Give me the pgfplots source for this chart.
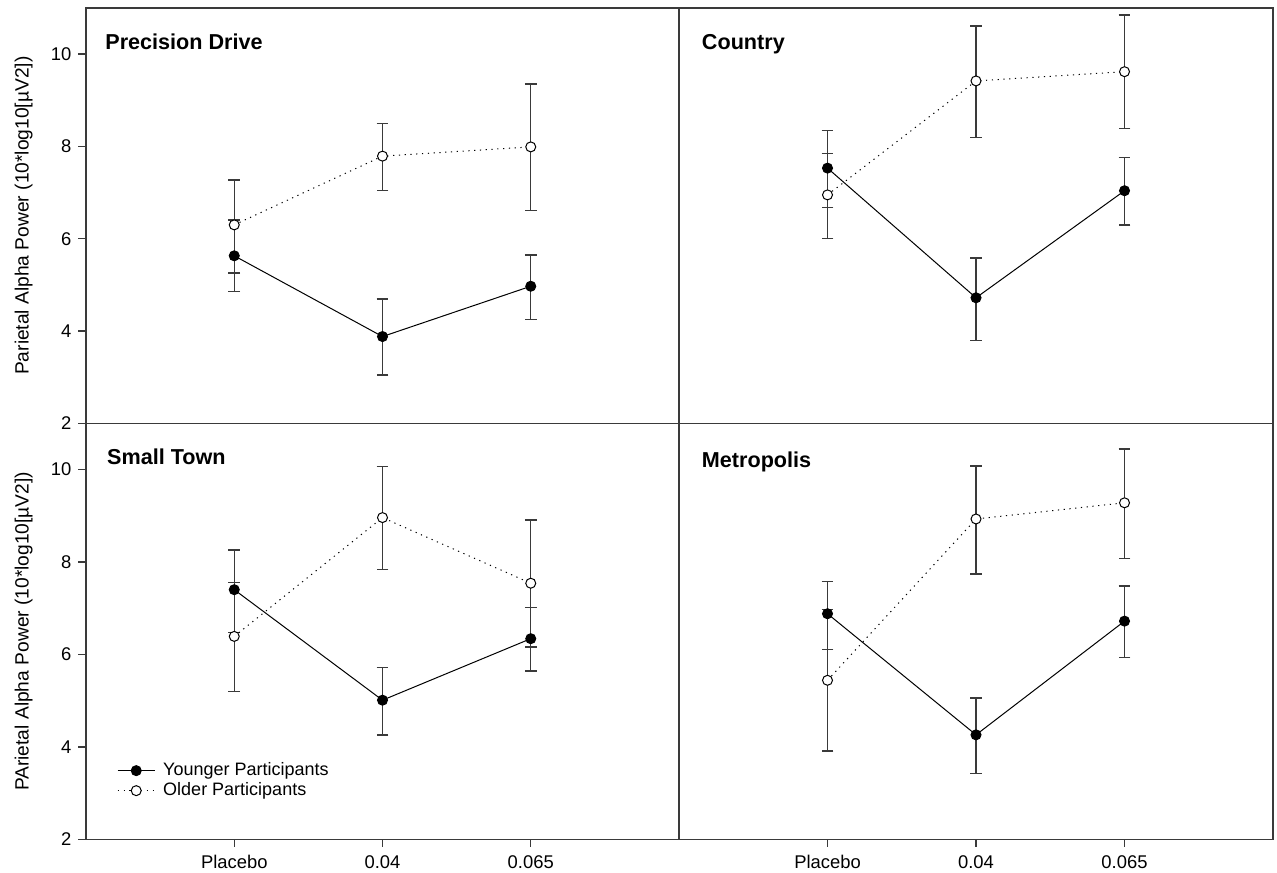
\documentclass[border=0pt]{standalone}
\usepackage{pgfplots}
\pgfplotsset{compat=1.18}
\usepackage{fontspec}
\setmainfont{Liberation Sans}
\definecolor{axgray}{HTML}{3A3A3A}

\tikzset{ttl/.style={anchor=west, inner sep=0pt, font=\bfseries\fontsize{10.8}{12}\selectfont}}
\pgfplotsset{
  panel/.style={
    scale only axis,
    anchor=south west,
    xmin=-1, xmax=3, ymin=2, ymax=11,
    axis line style={axgray, line width=0.65pt},
    tick style={axgray, line width=0.65pt},
    tick align=outside,
    major tick length=3.8pt,
    xtick=\empty, ytick=\empty,
    xtick pos=bottom, ytick pos=left,
    tick label style={font=\fontsize{9.2}{10}\selectfont},
    xticklabel style={yshift=-0.8pt},
    /pgf/number format/assume math mode=true,
    clip=false,
  },
  lefty/.style={
    ytick={2,4,6,8,10},
    ylabel style={at={(rel axis cs:-0.0893,0.5)}, anchor=south, inner sep=0pt, font=\fontsize{9.6}{11}\selectfont},
  },
  bottomx/.style={
    xtick={0,1,2},
    xticklabels={Placebo,0.04,0.065},
  },
  young/.style={
    black, line width=0.5pt, solid,
    mark=*, mark size=2.5pt, mark options={solid, fill=black, draw=black},
    error bars/.cd, y dir=both, y explicit,
    error bar style={axgray, line width=0.7pt, solid},
    error mark options={rotate=90, mark size=2.9pt, axgray, line width=0.7pt, solid},
  },
  old/.style={
    black, line width=0.5pt, dash pattern=on 0.6pt off 2.3pt,
    mark=*, mark size=2.5pt, mark options={solid, fill=white, draw=black, line width=0.5pt},
    error bars/.cd, y dir=both, y explicit,
    error bar style={axgray, line width=0.7pt, solid},
    error mark options={rotate=90, mark size=2.9pt, axgray, line width=0.7pt, solid},
  },
}

% x  y  ep  em
\pgfplotstableread{
x y ep em
0 5.63 0.78 0.78
1 3.88 0.81 0.83
2 4.97 0.68 0.72
}\PDy
\pgfplotstableread{
x y ep em
0 6.30 0.97 1.04
1 7.79 0.71 0.74
2 7.99 1.36 1.38
}\PDo
\pgfplotstableread{
x y ep em
0 7.53 0.81 0.85
1 4.72 0.86 0.92
2 7.04 0.72 0.74
}\COy
\pgfplotstableread{
x y ep em
0 6.95 0.90 0.95
1 9.42 1.19 1.22
2 9.62 1.23 1.23
}\COo
\pgfplotstableread{
x y ep em
0 7.40 0.86 0.92
1 5.01 0.71 0.75
2 6.34 0.67 0.70
}\STy
\pgfplotstableread{
x y ep em
0 6.39 1.17 1.19
1 8.96 1.10 1.12
2 7.54 1.37 1.38
}\STo
\pgfplotstableread{
x y ep em
0 6.88 0.70 0.77
1 4.26 0.80 0.84
2 6.72 0.76 0.79
}\MEy
\pgfplotstableread{
x y ep em
0 5.44 1.53 1.53
1 8.93 1.15 1.19
2 9.28 1.16 1.20
}\MEo

\begin{document}
\begin{tikzpicture}
\useasboundingbox (0,0) rectangle (638.5pt,436pt);

% Top-left: Precision Drive
\begin{axis}[panel, lefty, at={(43pt,224.35pt)}, width=296.5pt, height=207.65pt,
  ylabel={Parietal Alpha Power (10*log10[µV2])}]
  \addplot[young] table[x=x, y=y, y error plus=ep, y error minus=em] {\PDy};
  \addplot[old] table[x=x, y=y, y error plus=ep, y error minus=em] {\PDo};
  \node[ttl] at (rel axis cs:0.032,0.918) {Precision Drive};
\end{axis}

% Top-right: Country
\begin{axis}[panel, at={(339.5pt,224.35pt)}, width=297pt, height=207.65pt]
  \addplot[young] table[x=x, y=y, y error plus=ep, y error minus=em] {\COy};
  \addplot[old] table[x=x, y=y, y error plus=ep, y error minus=em] {\COo};
  \node[ttl] at (rel axis cs:0.038,0.912) {Country};
\end{axis}

% Bottom-left: Small Town
\begin{axis}[panel, lefty, bottomx, at={(43pt,16.35pt)}, width=296.5pt, height=208pt,
  ylabel={PArietal Alpha Power (10*log10[µV2])},
  legend entries={Younger Participants, Older Participants},
  legend cell align=left,
  legend style={draw=none, fill=none, at={(rel axis cs:0.052,0.19)}, anchor=north west,
    font=\fontsize{9}{9}\selectfont, inner sep=0pt, row sep=0pt, column sep=3pt,
    nodes={inner sep=1pt, text height=6.3pt, text depth=1.7pt}},
  legend image code/.code={\draw[mark repeat=2, mark phase=2, #1] plot coordinates {(0pt,0pt) (9.25pt,0pt) (18.5pt,0pt)};},
  ]
  \addplot[young] table[x=x, y=y, y error plus=ep, y error minus=em] {\STy};
  \addplot[old] table[x=x, y=y, y error plus=ep, y error minus=em] {\STo};
  \node[ttl] at (rel axis cs:0.035,0.92) {Small Town};
\end{axis}

% Bottom-right: Metropolis
\begin{axis}[panel, bottomx, at={(339.5pt,16.35pt)}, width=297pt, height=208pt]
  \addplot[young] table[x=x, y=y, y error plus=ep, y error minus=em] {\MEy};
  \addplot[old] table[x=x, y=y, y error plus=ep, y error minus=em] {\MEo};
  \node[ttl] at (rel axis cs:0.038,0.906) {Metropolis};
\end{axis}
\end{tikzpicture}
\end{document}
